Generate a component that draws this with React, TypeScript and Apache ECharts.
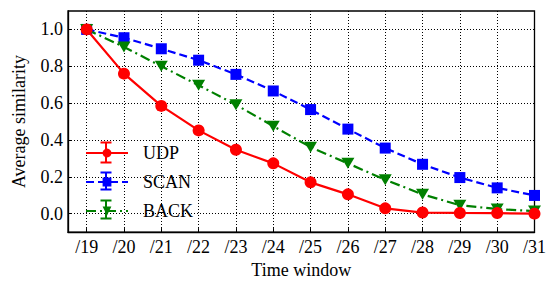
import React, { useEffect, useRef } from "react";
import * as echarts from "echarts";

const windows = [19, 20, 21, 22, 23, 24, 25, 26, 27, 28, 29, 30, 31];
const udp = [1.0, 0.76, 0.585, 0.452, 0.347, 0.273, 0.17, 0.105, 0.029, 0.006, 0.004, 0.003, 0.0];
const scan = [1.0, 0.955, 0.895, 0.833, 0.756, 0.666, 0.565, 0.459, 0.356, 0.268, 0.196, 0.14, 0.099];
const back = [1.0, 0.905, 0.8, 0.697, 0.591, 0.475, 0.361, 0.273, 0.184, 0.105, 0.046, 0.025, 0.014];
const yTicks = [0, 0.2, 0.4, 0.6, 0.8, 1.0];
const seriesNames = ["UDP", "SCAN", "BACK"];
const seriesColors = ["#ff0000", "#0000ff", "#008000"];

const FONT = "'Liberation Serif', 'Times New Roman', 'DejaVu Serif', serif";
const FS = 18;

export default function App() {
  const ref = useRef<HTMLDivElement>(null);
  useEffect(() => {
    if (!ref.current) return;
    const chart = echarts.init(ref.current, null, { renderer: "svg" });
    const pair = (arr: number[]) => windows.map((w, i) => [w, arr[i]]);
    // error-bar glyphs over legend icons
    const legendCentersY = [152.5, 181, 209.5];
    const errHalf = [10, 8.5, 9];
    const errGraphics: any[] = [];
    legendCentersY.forEach((cy, i) => {
      const c = seriesColors[i];
      const h = errHalf[i];
      errGraphics.push(
        { type: "line", shape: { x1: 106, y1: cy - h, x2: 106, y2: cy + h }, style: { stroke: c, lineWidth: 2 }, z: 100 },
        { type: "line", shape: { x1: 100.5, y1: cy - h, x2: 111.5, y2: cy - h }, style: { stroke: c, lineWidth: 2 }, z: 100 },
        { type: "line", shape: { x1: 100.5, y1: cy + h, x2: 111.5, y2: cy + h }, style: { stroke: c, lineWidth: 2 }, z: 100 }
      );
    });
    const dotted = { color: "#000", type: [1, 2], width: 1 };
    chart.setOption({
      animation: false,
      backgroundColor: "#fff",
      textStyle: { fontFamily: FONT },
      grid: {
        left: 68,
        top: 11,
        right: 11,
        bottom: 47,
        show: true,
        borderColor: "#000",
        borderWidth: 1.3,
        backgroundColor: "transparent",
      },
      legend: {
        orient: "vertical",
        left: 85,
        top: 144,
        padding: 0,
        itemWidth: 42,
        itemHeight: 11,
        itemGap: 11,
        textStyle: { fontFamily: FONT, fontSize: FS, color: "#000", padding: [0, 0, 0, 10] },
        data: seriesNames,
      },
      graphic: errGraphics,
      xAxis: {
        type: "value",
        min: 18.5,
        max: 31,
        name: "Time window",
        nameLocation: "middle",
        nameGap: 24,
        nameTextStyle: { fontFamily: FONT, fontSize: FS, color: "#000" },
        axisLine: { onZero: false, lineStyle: { color: "#000", width: 1.3 } },
        axisTick: { inside: true, length: 4, customValues: windows, lineStyle: { color: "#000" } },
        axisLabel: {
          customValues: windows,
          formatter: (v: number) => "/" + v,
          fontFamily: FONT,
          fontSize: FS,
          color: "#000",
          margin: 6,
        },
        splitLine: { show: true, lineStyle: dotted },
      },
      yAxis: {
        type: "value",
        min: -0.1,
        max: 1.1,
        name: "Average similarity",
        nameLocation: "middle",
        nameGap: 40,
        nameTextStyle: { fontFamily: FONT, fontSize: FS, color: "#000" },
        axisLine: { show: true, onZero: false, lineStyle: { color: "#000", width: 1.3 } },
        axisTick: { show: true, inside: true, length: 4, customValues: yTicks, lineStyle: { color: "#000" } },
        axisLabel: {
          customValues: yTicks,
          formatter: (v: number) => v.toFixed(1),
          fontFamily: FONT,
          fontSize: FS,
          color: "#000",
          margin: 5,
        },
        splitLine: { show: true, lineStyle: dotted },
      },
      series: [
        {
          name: "UDP",
          type: "line",
          data: pair(udp),
          symbol: "circle",
          symbolSize: 12,
          color: seriesColors[0],
          lineStyle: { color: seriesColors[0], width: 2.2, type: "solid" },
          itemStyle: { color: seriesColors[0] },
          z: 3,
        },
        {
          name: "SCAN",
          type: "line",
          data: pair(scan),
          symbol: "rect",
          symbolSize: 11,
          color: seriesColors[1],
          lineStyle: { color: seriesColors[1], width: 2.2, type: [8, 4] },
          itemStyle: { color: seriesColors[1] },
          z: 2,
        },
        {
          name: "BACK",
          type: "line",
          data: pair(back),
          symbol: "triangle",
          symbolRotate: 180,
          symbolSize: [13, 11],
          color: seriesColors[2],
          lineStyle: { color: seriesColors[2], width: 2.2, type: [10, 4, 2, 4] },
          itemStyle: { color: seriesColors[2] },
          z: 2,
        },
      ],
    });
    return () => chart.dispose();
  }, []);
  return <div ref={ref} style={{ width: 549, height: 284, position: "absolute", left: 0, top: 0 }} />;
}
